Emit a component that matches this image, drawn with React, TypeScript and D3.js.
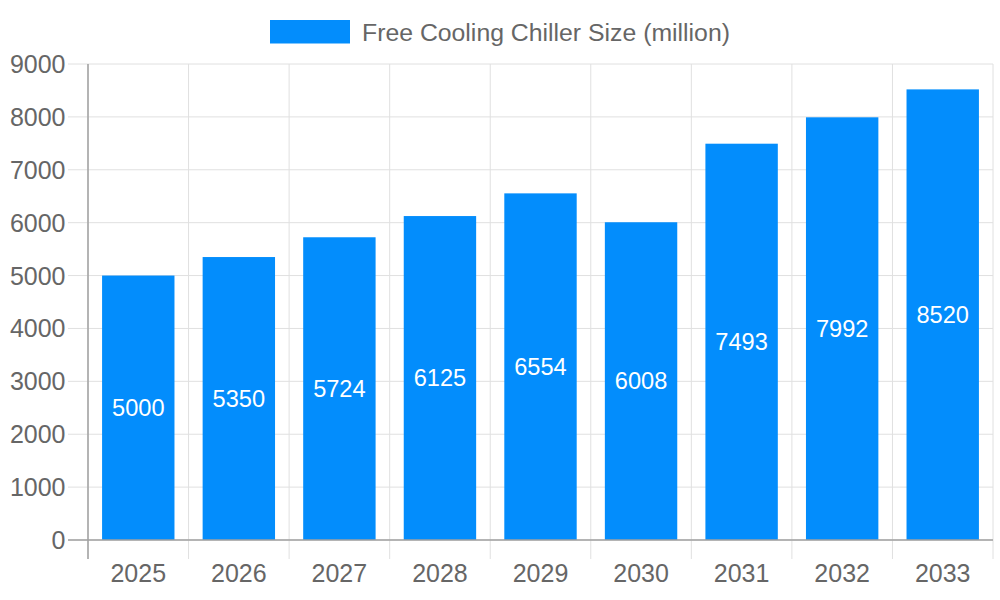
import React from "react";
import * as d3 from "d3";

const categories = ["2025", "2026", "2027", "2028", "2029", "2030", "2031", "2032", "2033"];
const values = [5000, 5350, 5724, 6125, 6554, 6008, 7493, 7992, 8520];
const yTicks = [0, 1000, 2000, 3000, 4000, 5000, 6000, 7000, 8000, 9000];
const seriesName = "Free Cooling Chiller Size (million)";

const W = 1000, H = 600;
const left = 88, right = 993, top = 64, bottom = 540;
const font = "'Liberation Sans', Arial, Helvetica, sans-serif";
const barColor = "#038dfc";
const textColor = "#666666";

export default function App() {
  const x = d3.scaleBand<string>().domain(categories).range([left, right]).paddingInner(0).paddingOuter(0);
  const y = d3.scaleLinear().domain([0, 9000]).range([bottom, top]);
  const bw = x.bandwidth();
  const barW = bw * 0.72;
  const edges = categories.map((c) => x(c) as number).concat([right]);

  return (
    <svg width={W} height={H} style={{ position: "absolute", left: 0, top: 0, background: "#fff" }} fontFamily={font}>
      {yTicks.map((t) => (
        <line key={"h" + t} x1={68} x2={right} y1={y(t)} y2={y(t)} stroke="#e0e0e0" strokeWidth={1} />
      ))}
      {edges.map((e, i) => (
        <line key={"v" + i} x1={e} x2={e} y1={top} y2={559} stroke="#e0e0e0" strokeWidth={1} />
      ))}
      {values.map((v, i) => {
        const cx = (x(categories[i]) as number) + bw / 2;
        return (
          <rect key={"b" + i} x={cx - barW / 2} y={y(v)} width={barW} height={bottom - y(v)} fill={barColor} />
        );
      })}
      <line x1={left} x2={left} y1={top} y2={559} stroke="#a0a0a0" strokeWidth={1.5} />
      <line x1={68} x2={right} y1={bottom} y2={bottom} stroke="#a0a0a0" strokeWidth={1.5} />
      {yTicks.map((t) => (
        <text key={"yl" + t} x={65.5} y={y(t)} dy="0.36em" textAnchor="end" fontSize={25} fill={textColor}>
          {t}
        </text>
      ))}
      {categories.map((c) => (
        <text key={"xl" + c} x={(x(c) as number) + bw / 2} y={582} textAnchor="middle" fontSize={25} fill={textColor}>
          {c}
        </text>
      ))}
      {values.map((v, i) => (
        <text key={"vl" + i} x={(x(categories[i]) as number) + bw / 2} y={(y(v) + bottom) / 2} dy="0.35em" textAnchor="middle" fontSize={23.6} fill="#ffffff">
          {v}
        </text>
      ))}
      <rect x={270} y={20} width={80} height={23.5} fill={barColor} />
      <text x={362} y={32} dy="0.36em" fontSize={24.8} fill={textColor}>
        {seriesName}
      </text>
    </svg>
  );
}
